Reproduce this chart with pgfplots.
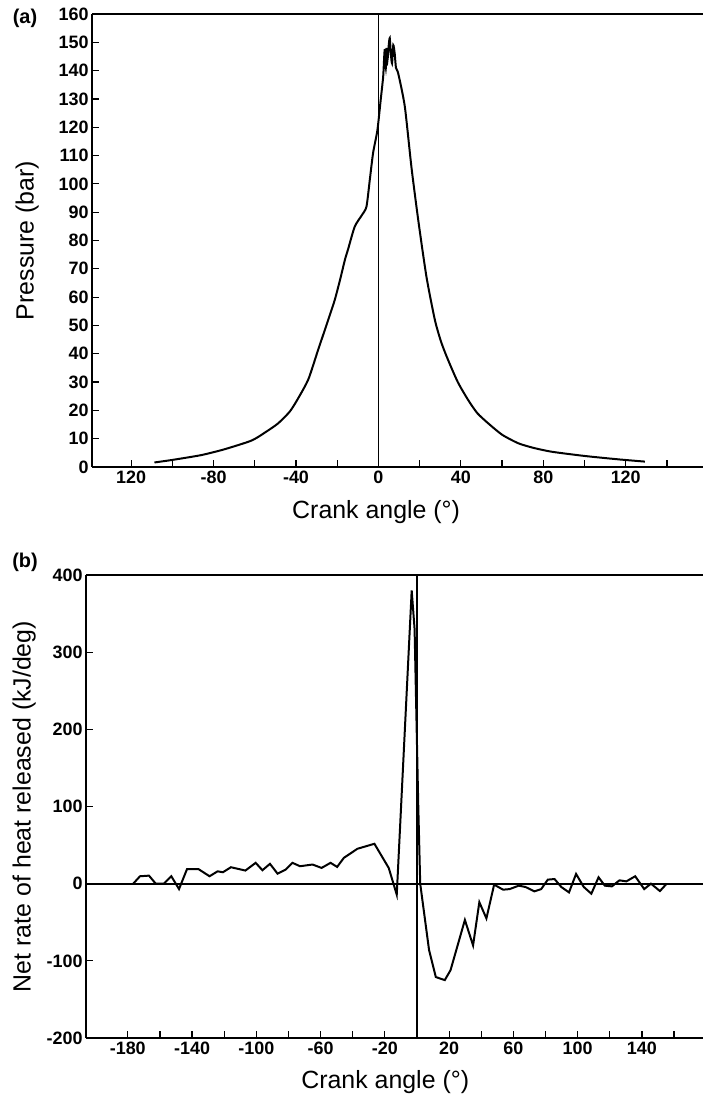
\documentclass[border=0pt]{standalone}
\usepackage{pgfplots}
\pgfplotsset{compat=1.18}
\usepackage{fontspec}
\setmainfont{Liberation Sans}

\pgfplotstableread{
ang p
-108.7 1.6
-100 2.5
-86 4.2
-75 6.2
-61.7 9.3
-55 12.2
-48.7 15.4
-43 19.6
-39 24.2
-34 31
-29.3 41.3
-24.4 51.9
-21.2 59
-18.5 66.5
-16.3 73.1
-14.7 77
-11.5 84.9
-8 89
-5.8 92
-4.2 101.4
-2.6 110.9
-0.5 119
1.1 129.7
2.3 137.9
2.8 145
3.1 147.3
3.6 141
4.0 148
4.4 143.8
5.0 149
5.5 151.5
6.0 146
6.6 142.6
7.2 149
7.9 146
8.5 141
9.6 139
12.8 127.3
16 106
19.3 87.3
23.3 67.2
27.4 51.9
30.5 44
33.8 37.8
38.5 30
43.5 23.7
48 19
53.3 15.4
60 11.4
67.8 8.4
75 6.8
84 5.4
100 3.9
116.4 2.7
129.3 1.9
}\pressure

\pgfplotstableread{
ang q
-176.6 0
-172.4 9.6
-166.8 10.4
-162.6 0
-157.6 0
-152.9 9.6
-148.1 -7
-143.1 19
-136.1 19
-129.1 9.6
-124.1 16
-120.8 14.8
-115.8 21.3
-106.8 17
-100.4 27
-96.2 17.4
-91.5 25.7
-86.8 13
-81.7 18.3
-77.5 27
-72.8 22.6
-65 24.8
-59.4 20.4
-53.8 27
-49.7 21.7
-45.5 33.5
-37.1 45.2
-26.5 51.7
-17.6 20.4
-12.6 -14.3
-3.3 380
-1.5 330
0.8 100
2 0
7.5 -86
11.7 -121
17.3 -125
20.9 -112
29.8 -47
34.9 -80
38.8 -24
43.2 -45
48 -1.3
53.6 -7.8
57.7 -7
63.3 -2.6
67.5 -4.3
73.1 -10
77.3 -7
81.4 5.2
85.6 6
89.8 -4.3
94.6 -11.3
99 12.6
103.8 -4.3
108.5 -13
113 8.3
116.9 -2.6
121.3 -3.5
126 4.3
130.3 3
135.8 9.6
141.4 -7
145.6 0
151.2 -9.6
155.4 0
}\heat

\begin{document}
\begin{tikzpicture}
\useasboundingbox (0,0) rectangle (703bp,1100bp);
\pgfplotsset{
  crank/.style={
    scale only axis, clip=false,
    axis x line*=box, axis y line*=left,
    xtick pos=bottom, ytick pos=left,
    tick align=inside,
    major tick length=7bp, minor tick length=7bp,
    every tick/.style={black, line width=1.2pt},
    axis line style={-, line width=1.8pt},
    tick label style={font=\bfseries\fontsize{18}{18}\selectfont},
    /pgf/number format/assume math mode=true,
    label style={font=\fontsize{25}{25}\selectfont},
  }
}

% (a) pressure
\begin{axis}[crank, at={(92bp,633bp)}, anchor=south west, width=611bp, height=453bp,
  xmin=-139, xmax=157.5, ymin=0, ymax=160,
  xtick={-120,-80,...,120}, xticklabels={120,-80,-40,0,40,80,120},
  minor xtick={-100,-60,...,140},
  ytick={0,10,...,160},
  xlabel={Crank angle (°)}, ylabel={Pressure (bar)},
  xlabel style={at={(axis description cs:0.465,-0.10)}, anchor=center},
  ylabel style={at={(axis description cs:-0.106,0.5)}, anchor=center},
]
\addplot[black, line width=2pt, smooth, tension=0.4] table[x=ang, y=p] {\pressure};
\draw[line width=1.8pt] (axis cs:0,0) -- (axis cs:0,160);
\end{axis}
\node[font=\bfseries\fontsize{20}{20}\selectfont] at (25bp,1082bp) {(a)};

% (b) heat release rate
\begin{axis}[crank, at={(86bp,62bp)}, anchor=south west, width=617bp, height=463bp,
  xmin=-206, xmax=178, ymin=-200, ymax=400,
  xtick={-180,-140,...,140}, minor xtick={-160,-120,...,160},
  ytick={-200,-100,...,400},
  xlabel={Crank angle (°)}, ylabel={Net rate of heat released (kJ/deg)},
  xlabel style={at={(axis description cs:0.485,-0.095)}, anchor=center},
  ylabel style={at={(axis description cs:-0.100,0.5)}, anchor=center},
]
\addplot[black, line width=2pt] table[x=ang, y=q] {\heat};
\draw[line width=1.8pt] (axis cs:0,-200) -- (axis cs:0,400);
\draw[line width=1.8pt] (axis cs:-206,0) -- (axis cs:178,0);
\end{axis}
\node[font=\bfseries\fontsize{20}{20}\selectfont] at (25bp,538bp) {(b)};
\end{tikzpicture}
\end{document}
